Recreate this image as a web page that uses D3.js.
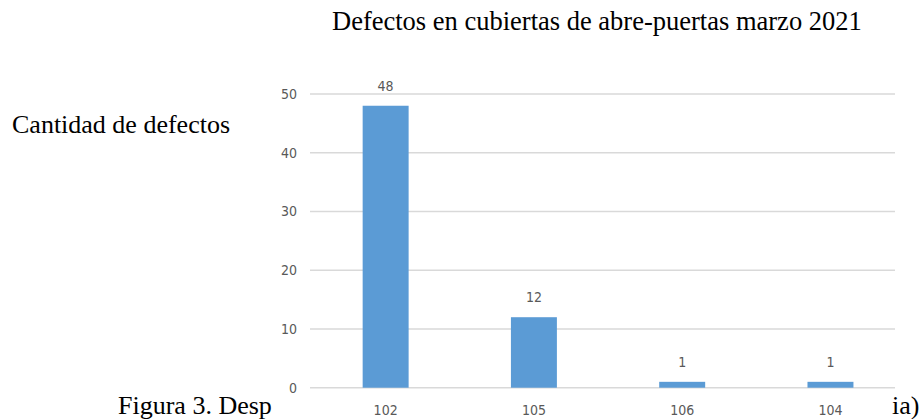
<!DOCTYPE html>
<html>
<head>
<meta charset="utf-8">
<script src="https://cdn.jsdelivr.net/npm/d3@7"></script>
<style>
  html, body { margin: 0; padding: 0; background: #fff; }
  svg { display: block; }
  .serif { font-family: "Liberation Serif", "Times New Roman", serif; fill: #000; }
  .num { font-family: "Liberation Sans Narrow", "DejaVu Sans Condensed", "Arial Narrow", sans-serif; fill: #595959; font-size: 14px; }
</style>
</head>
<body>
<script>
const categories = ["102", "105", "106", "104"];
const values = [48, 12, 1, 1];
const yTicks = [0, 10, 20, 30, 40, 50];
const title = "Defectos en cubiertas de abre-puertas marzo 2021";
const yTitle = "Cantidad de defectos";
const captionLeft = "Figura 3. Desp";
const captionRight = "ia)";

const W = 923, H = 419;
const svg = d3.select("body").append("svg").attr("width", W).attr("height", H);

// caption behind chart (partially hidden)
svg.append("defs").append("clipPath").attr("id", "capclip")
  .append("rect").attr("x", 0).attr("y", 0).attr("width", 273).attr("height", H);
svg.append("text").attr("class", "serif").attr("x", 118).attr("y", 414)
  .attr("font-size", 26).attr("clip-path", "url(#capclip)").text(captionLeft);
svg.append("text").attr("class", "serif").attr("x", 892).attr("y", 414)
  .attr("font-size", 26).text(captionRight);

const x = d3.scaleBand().domain(categories).range([311.5, 904.6]).paddingInner(0.69).paddingOuter(0.345);
const y = d3.scaleLinear().domain([0, 50]).range([387.7, 94]);

// gridlines
svg.append("g").selectAll("line").data(yTicks).join("line")
  .attr("x1", 310).attr("x2", 895)
  .attr("y1", d => y(d)).attr("y2", d => y(d))
  .attr("stroke", "#d9d9d9").attr("stroke-width", 1.5);

// y axis labels
const yAxis = d3.axisLeft(y).tickValues(yTicks).tickSize(0).tickPadding(0);
const ya = svg.append("g").attr("transform", "translate(297,0)").call(yAxis);
ya.select(".domain").remove();
ya.selectAll("text").attr("class", "num").attr("fill", null).attr("font-family", null).attr("font-size", null);

// bars
svg.append("g").selectAll("rect").data(values).join("rect")
  .attr("x", (d, i) => x(categories[i]))
  .attr("width", x.bandwidth())
  .attr("y", d => y(d))
  .attr("height", d => y(0) - y(d))
  .attr("fill", "#5b9bd5");

// value labels
svg.append("g").selectAll("text").data(values).join("text")
  .attr("class", "num").attr("text-anchor", "middle")
  .attr("x", (d, i) => x(categories[i]) + x.bandwidth() / 2)
  .attr("y", d => y(d) - 15)
  .text(d => d);

// x axis labels
const xAxis = d3.axisBottom(x).tickSize(0).tickPadding(0);
const xa = svg.append("g").attr("transform", "translate(0,405)").call(xAxis);
xa.select(".domain").remove();
xa.selectAll("text").attr("class", "num").attr("fill", null).attr("font-family", null).attr("font-size", null);

// titles
svg.append("text").attr("class", "serif").attr("x", 332).attr("y", 30)
  .attr("font-size", 26.5).text(title);
svg.append("text").attr("class", "serif").attr("x", 12).attr("y", 133)
  .attr("font-size", 26).text(yTitle);
</script>
</body>
</html>
